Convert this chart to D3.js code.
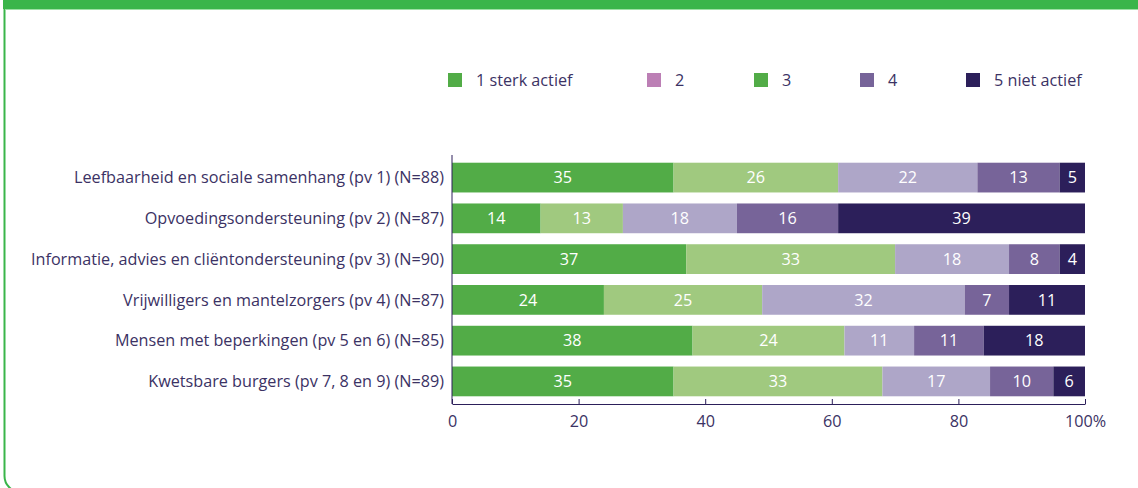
<!DOCTYPE html>
<html>
<head>
<meta charset="utf-8">
<script src="https://cdn.jsdelivr.net/npm/d3@7"></script>
<style>
  body { margin: 0; background: #fff; }
  svg { display: block; font-family: "Open Sans", sans-serif; }
</style>
</head>
<body>
<script>
var categories = [
  "Leefbaarheid en sociale samenhang (pv 1) (N=88)",
  "Opvoedingsondersteuning (pv 2) (N=87)",
  "Informatie, advies en cliëntondersteuning (pv 3) (N=90)",
  "Vrijwilligers en mantelzorgers (pv 4) (N=87)",
  "Mensen met beperkingen (pv 5 en 6) (N=85)",
  "Kwetsbare burgers (pv 7, 8 en 9) (N=89)"
];
var seriesNames = ["1 sterk actief", "2", "3", "4", "5 niet actief"];
var s1 = [35, 14, 37, 24, 38, 35];
var s2 = [26, 13, 33, 25, 24, 33];
var s3 = [22, 18, 18, 32, 11, 17];
var s4 = [13, 16, 8, 7, 11, 10];
var s5 = [5, 39, 4, 11, 18, 6];
var ticks = [0, 20, 40, 60, 80, 100];

var barColors = ["#52ac47", "#a0c97f", "#aea6c8", "#776499", "#2c1f5a"];
var legendColors = ["#52ac47", "#bc7fb5", "#52ac47", "#776499", "#2c1f5a"];
var textColor = "#3b3264";
var fontSize = "16.2px";

var width = 1138, height = 488;
var margin = { left: 452, right: 53, top: 155, bottom: 84 };

var svg = d3.select("body").append("svg")
  .attr("width", width)
  .attr("height", height);

// frame
svg.append("rect")
  .attr("x", 4.5).attr("y", -20)
  .attr("width", width + 10).attr("height", height + 4 + 20)
  .attr("rx", 16)
  .attr("fill", "none")
  .attr("stroke", "#3ab54a")
  .attr("stroke-width", 2);
svg.append("rect")
  .attr("x", 3).attr("y", 0)
  .attr("width", width).attr("height", 9)
  .attr("fill", "#3ab54a");
svg.append("line")
  .attr("x1", 5).attr("x2", width).attr("y1", 9.5).attr("y2", 9.5)
  .attr("stroke", "#9ee0a5").attr("stroke-width", 1);

var x = d3.scaleLinear().domain([0, 100]).range([margin.left, width - margin.right]);
var y = d3.scaleBand().domain(categories)
  .range([margin.top + 2, height - margin.bottom - 2])
  .paddingInner(0.27).paddingOuter(0.14);

// build stacked rows, last segment fills up to 100%
var series = [s1, s2, s3, s4, s5];
var rows = categories.map(function (c, i) {
  var cum = 0;
  return series.map(function (s, k) {
    var x0 = cum;
    cum += s[i];
    var x1 = k === series.length - 1 ? 100 : Math.min(cum, 100);
    return { cat: c, k: k, v: s[i], x0: x0, x1: x1 };
  });
});

var g = svg.append("g");
rows.forEach(function (row) {
  var rg = g.append("g");
  rg.selectAll("rect")
    .data(row)
    .enter()
    .append("rect")
    .attr("x", function (d) { return x(d.x0); })
    .attr("y", function (d) { return y(d.cat); })
    .attr("width", function (d) { return x(d.x1) - x(d.x0); })
    .attr("height", y.bandwidth())
    .attr("fill", function (d) { return barColors[d.k]; });
  rg.selectAll("text")
    .data(row)
    .enter()
    .append("text")
    .attr("x", function (d) { return (x(d.x0) + x(d.x1)) / 2; })
    .attr("y", function (d) { return y(d.cat) + y.bandwidth() / 2; })
    .attr("dy", "0.35em")
    .attr("text-anchor", "middle")
    .attr("fill", "#fff")
    .style("font-size", fontSize)
    .text(function (d) { return d.v; });
});

// category labels
svg.append("g").selectAll("text")
  .data(categories)
  .enter()
  .append("text")
  .attr("x", margin.left - 8)
  .attr("y", function (d) { return y(d) + y.bandwidth() / 2; })
  .attr("dy", "0.35em")
  .attr("text-anchor", "end")
  .attr("fill", textColor)
  .style("font-size", fontSize)
  .text(function (d) { return d; });

// axes
var axisY = height - margin.bottom;
svg.append("line")
  .attr("x1", x(0)).attr("x2", x(0))
  .attr("y1", margin.top).attr("y2", axisY)
  .attr("stroke", "#2c1f5a").attr("stroke-width", 1);

var xAxis = d3.axisBottom(x)
  .tickValues(ticks)
  .tickSizeInner(-5)
  .tickSizeOuter(0)
  .tickPadding(11)
  .tickFormat(function (d) { return d === 100 ? "100%" : d; });

var ax = svg.append("g")
  .attr("transform", "translate(0," + axisY + ")")
  .call(xAxis);
ax.select(".domain").attr("stroke", "#2c1f5a");
ax.selectAll(".tick line").attr("stroke", "#2c1f5a");
ax.selectAll(".tick text")
  .attr("fill", textColor)
  .style("font-size", fontSize)
  .style("font-family", "Open Sans, sans-serif");

// legend
var legendX = [448, 647, 754, 860, 966];
var legend = svg.append("g").selectAll("g")
  .data(seriesNames)
  .enter()
  .append("g")
  .attr("transform", function (d, i) { return "translate(" + legendX[i] + ",73)"; });
legend.append("rect")
  .attr("width", 14).attr("height", 14)
  .attr("fill", function (d, i) { return legendColors[i]; });
legend.append("text")
  .attr("x", 28).attr("y", 7)
  .attr("dy", "0.35em")
  .attr("fill", textColor)
  .style("font-size", fontSize)
  .text(function (d) { return d; });
</script>
</body>
</html>
